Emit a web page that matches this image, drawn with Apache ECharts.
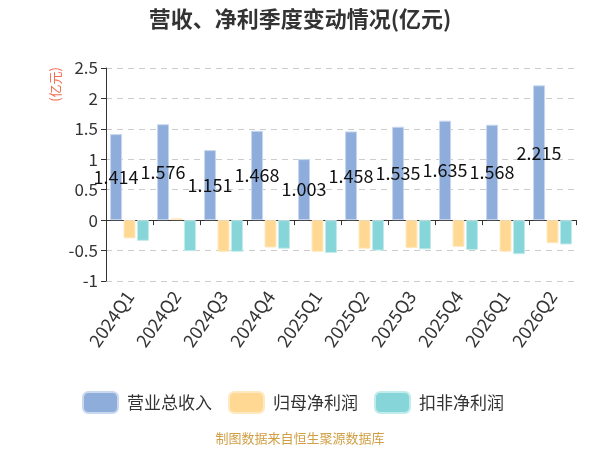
<!DOCTYPE html>
<html>
<head>
<meta charset="utf-8">
<script src="https://cdn.jsdelivr.net/npm/echarts@6/dist/echarts.min.js"></script>
<style>
html, body { margin: 0; padding: 0; background: #fff; }
#main { width: 600px; height: 450px; }
</style>
</head>
<body>
<div id="main"></div>
<script>
// 季度
var quarters = ['2024Q1', '2024Q2', '2024Q3', '2024Q4', '2025Q1', '2025Q2', '2025Q3', '2025Q4', '2026Q1', '2026Q2'];
// 营业总收入(亿元)
var revenue = [1.414, 1.576, 1.151, 1.468, 1.003, 1.458, 1.535, 1.635, 1.568, 2.215];
// 归母净利润
var netProfit = [-0.30, 0.03, -0.52, -0.45, -0.52, -0.47, -0.46, -0.44, -0.52, -0.38];
// 扣非净利润
var deductedProfit = [-0.34, -0.51, -0.52, -0.47, -0.54, -0.50, -0.48, -0.49, -0.56, -0.40];

var font = '"Noto Sans CJK SC", "Noto Sans", sans-serif';

var myChart = echarts.init(document.getElementById('main'));
var option = {
    textStyle: { fontFamily: font },
    title: {
        text: '营收、净利季度变动情况(亿元)',
        left: 'center',
        top: 3,
        textStyle: { fontSize: 22, fontWeight: 'bold', color: '#333', fontFamily: font }
    },
    legend: {
        top: 386,
        left: 77,
        itemWidth: 35,
        itemHeight: 21,
        itemGap: 16,
        icon: 'roundRect',
        textStyle: { fontSize: 17, color: '#333', padding: [0, 0, 0, 4] },
        data: ['营业总收入', '归母净利润', '扣非净利润']
    },
    grid: { left: 106, right: 24, top: 68, bottom: 169 },
    graphic: [{
        type: 'text',
        left: 49,
        top: 67,
        rotation: Math.PI / 2,
        style: { text: '(亿元)', fill: '#f26c4f', fontSize: 13, fontFamily: font }
    }, {
        type: 'text',
        left: 'center',
        top: 432,
        style: { text: '制图数据来自恒生聚源数据库', fill: '#d19f45', fontSize: 13, fontFamily: font }
    }],
    xAxis: {
        type: 'category',
        data: quarters,
        axisLine: { onZero: true, lineStyle: { color: '#333' } },
        axisTick: { show: true, lineStyle: { color: '#333' } },
        axisLabel: { rotate: 55, fontSize: 18, color: '#333', margin: 12 }
    },
    yAxis: {
        type: 'value',
        min: -1,
        max: 2.5,
        interval: 0.5,
        axisLine: { show: true, lineStyle: { color: '#333' } },
        axisTick: { show: true, lineStyle: { color: '#333' } },
        axisLabel: { fontSize: 17, color: '#333' },
        splitLine: { lineStyle: { type: [6, 5], color: '#ccc' } }
    },
    series: [{
        name: '营业总收入',
        type: 'bar',
        data: revenue,
        barWidth: 12,
        barGap: '12%',
        itemStyle: { color: '#8eaddb', borderColor: '#c9d8ee', borderWidth: 1 },
        label: { show: true, position: 'inside', color: '#111', fontSize: 18 }
    }, {
        name: '归母净利润',
        type: 'bar',
        data: netProfit,
        barWidth: 12,
        barGap: '12%',
        itemStyle: { color: '#ffd993', borderColor: '#ffe9c2', borderWidth: 1 }
    }, {
        name: '扣非净利润',
        type: 'bar',
        data: deductedProfit,
        barWidth: 12,
        barGap: '12%',
        itemStyle: { color: '#86d5d8', borderColor: '#c2ebec', borderWidth: 1 }
    }]
};
myChart.setOption(option);
</script>
</body>
</html>
